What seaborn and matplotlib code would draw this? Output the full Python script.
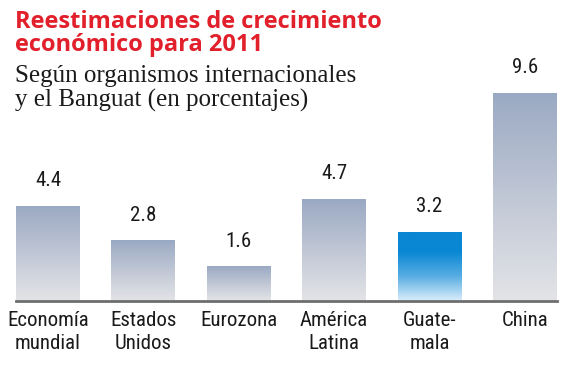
import numpy as np
import pandas as pd
import matplotlib
matplotlib.use("Agg")
import matplotlib.pyplot as plt
import seaborn as sns
from matplotlib import font_manager
from matplotlib.font_manager import FontProperties
from matplotlib.colors import LinearSegmentedColormap

# datos
categorias = ["Economía\nmundial", "Estados\nUnidos", "Eurozona", "América\nLatina", "Guate-\nmala", "China"]
valores = [4.4, 2.8, 1.6, 4.7, 3.2, 9.6]
etiquetas = ["4.4", "2.8", "1.6", "4.7", "3.2", "9.6"]
destacado = "Guate-\nmala"

titulo = "Reestimaciones de crecimiento\neconómico para 2011"
subtitulo = "Según organismos internacionales\ny el Banguat (en porcentajes)"


# buscar una fuente estrecha (condensed / narrow) si existe
def fuente_estrecha():
    fuentes = font_manager.fontManager.ttflist
    prefs = ["Liberation Sans Narrow", "Roboto Condensed", "Open Sans Condensed",
             "DejaVu Sans Condensed", "Noto Sans Condensed", "DejaVu Sans"]
    for nombre in prefs:
        for f in fuentes:
            estrecha = ("Narrow" in f.name or "Condensed" in f.name
                        or str(f.stretch) in ("condensed", "semi-condensed", "extra-condensed")
                        or "Condensed" in f.fname)
            if f.name == nombre and estrecha and f.weight in (400, "normal", "regular") \
                    and f.style == "normal":
                return f.fname
    for f in fuentes:
        if ("Narrow" in f.fname or "Condensed" in f.fname) and "Bold" not in f.fname \
                and "Italic" not in f.fname and "Oblique" not in f.fname:
            return f.fname
    return None


ruta = fuente_estrecha()
if ruta:
    fp_lab = FontProperties(fname=ruta, size=15)
    fp_val = FontProperties(fname=ruta, size=15)
else:
    fp_lab = FontProperties(family="Roboto", size=13)
    fp_val = FontProperties(family="Roboto", size=14)

sns.set_style("white")
plt.rcParams["font.family"] = ["DejaVu Sans"]

df = pd.DataFrame({"cat": categorias, "val": valores})

fig = plt.figure(figsize=(5.81, 3.79), dpi=100)
W, H = 581, 379
ax = fig.add_axes([16 / W, 1 - 301 / H, (557 - 16) / W, (301 - 60) / H])

sns.barplot(data=df, x="cat", y="val", ax=ax, width=0.67, color="#aab4c8",
            edgecolor="none", linewidth=0)

# degradado vertical dentro de cada barra
gris = LinearSegmentedColormap.from_list("gris", ["#e3e4e7", "#c0c7d5", "#9aa9c3"])
azul = LinearSegmentedColormap.from_list("azul", [(0, "#dbeefb"), (0.35, "#5aaee3"),
                                                  (0.7, "#0a88d4"), (1, "#0a86d2")])
grad = np.linspace(0, 1, 256).reshape(-1, 1)
for p, cat, txt in zip(ax.patches, categorias, etiquetas):
    x0, y0 = p.get_x(), p.get_y()
    w, h = p.get_width(), p.get_height()
    cmap = azul if cat == destacado else gris
    im = ax.imshow(grad, cmap=cmap, aspect="auto", origin="lower",
                   extent=[x0, x0 + w, y0, y0 + h], zorder=p.get_zorder())
    im.set_clip_path(p)
    p.set_facecolor("none")
    ax.text(x0 + w / 2, h + 0.72, txt, ha="center", va="bottom",
            fontproperties=fp_val, color="#1a1a1a")

ax.set_xlim(-0.335, 5.335)
ax.set_ylim(0, (301 - 60) / 21.7)
ax.set_xlabel("")
ax.set_ylabel("")
ax.set_yticks([])
ax.tick_params(axis="x", length=0, pad=7)
ax.set_xticks(range(len(categorias)))
ax.set_xticklabels(categorias, fontproperties=fp_lab, color="#1a1a1a",
                   va="top", linespacing=1.3)
for s in ["top", "left", "right"]:
    ax.spines[s].set_visible(False)
ax.spines["bottom"].set_color("#6e6e6e")
ax.spines["bottom"].set_linewidth(2)

fig.text(15 / W, 1 - 10 / H, titulo, ha="left", va="top", fontsize=17,
         fontweight="bold", family="Open Sans", color="#e1202b", linespacing=0.95)
fig.text(15 / W, 1 - 65 / H, subtitulo, ha="left", va="top", fontsize=18,
         family="Liberation Serif", color="#1a1a1a", linespacing=1.1)

fig.savefig("out.png", dpi=100)
